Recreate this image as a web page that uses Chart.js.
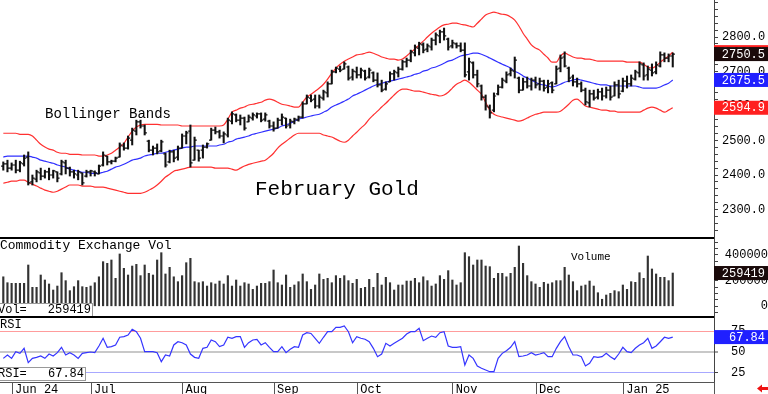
<!DOCTYPE html>
<html>
<head>
<meta charset="utf-8">
<script src="https://cdn.jsdelivr.net/npm/chart.js@4.4.1/dist/chart.umd.min.js"></script>
<style>
  body { margin: 0; background: #fff; }
  #wrap { position: relative; width: 768px; height: 394px; overflow: hidden; background: #fff; }
  canvas { position: absolute; left: 0; }
</style>
</head>
<body>
<div id="wrap">
  <canvas id="priceChart" width="768" height="237" style="top:0"></canvas>
  <canvas id="volChart" width="768" height="79" style="top:237px"></canvas>
  <canvas id="rsiChart" width="768" height="78" style="top:316px"></canvas>
</div>
<script>
// February Gold, daily bars end of May 2024 -> Jan 2025
const monthLabels = ['Jun 24', 'Jul', 'Aug', 'Sep', 'Oct', 'Nov', 'Dec', 'Jan 25'];
const monthStart = [2, 21, 43, 65, 85, 108, 128, 149];   // bar index of first session in month

const opens = [
  2426,2432,2420,2429,2414,2432,2452,2380,2388,2406,
  2397,2409,2400,2409,2403,2435,2420,2409,2400,2406,
  2397,2409,2409,2403,2429,2455,2438,2440,2452,2484,
  2478,2501,2527,2554,2542,2498,2472,2478,2470,2461,
  2438,2467,2452,2478,2513,2527,2443,2472,2472,
  2481,2501,2530,2525,2513,2516,2556,2574,2559,2565,
  2554,2565,2571,2577,2562,2556,2542,2536,2559,2565,
  2545,2554,2559,2568,2606,2623,2620,2600,2623,2638,
  2664,2699,2707,2707,2713,2684,2699,2690,2701,2684,
  2696,2675,2661,2649,2670,2693,2696,2707,2728,2733,
  2754,2768,2777,2765,2771,2791,2803,2815,2794,2774,
  2780,2774,2762,2699,2725,2690,2658,2626,2597,2588,
  2635,2655,2672,2693,2701,2681,2646,2670,2658,2675,
  2664,2672,2655,2667,2664,2710,2742,2710,2684,2670,
  2664,2646,2609,2635,2626,2641,2629,2646,2629,2661,
  2643,2672,2664,2678,2696,2719,2690,2704,2699,2716,
  2748,2739,2745
];
const highs = [
  2438,2443,2435,2443,2440,2458,2467,2400,2414,2420,
  2414,2420,2414,2409,2443,2443,2423,2414,2414,2406,
  2414,2414,2412,2429,2467,2455,2443,2452,2493,2493,
  2513,2536,2559,2559,2545,2501,2484,2490,2501,2464,
  2472,2472,2484,2519,2527,2545,2510,2472,2487,
  2493,2536,2539,2530,2525,2565,2583,2577,2574,2568,
  2574,2580,2580,2580,2580,2559,2554,2565,2577,2565,
  2562,2565,2571,2612,2632,2632,2632,2632,2646,2670,
  2704,2713,2716,2728,2716,2707,2713,2710,2704,2710,
  2699,2696,2675,2670,2699,2704,2713,2733,2739,2762,
  2777,2785,2783,2780,2797,2812,2820,2826,2797,2791,
  2783,2783,2783,2739,2728,2704,2661,2632,2603,2638,
  2661,2681,2699,2710,2742,2684,2681,2684,2681,2684,
  2681,2675,2675,2670,2716,2748,2757,2713,2690,2681,
  2670,2652,2646,2646,2649,2652,2655,2658,2670,2675,
  2681,2687,2690,2704,2728,2725,2716,2722,2728,2757,
  2754,2751,2754
];
const lows = [
  2414,2409,2414,2406,2409,2426,2371,2371,2380,2386,
  2391,2386,2391,2380,2400,2403,2397,2391,2386,2371,
  2394,2397,2397,2403,2426,2429,2432,2438,2452,2472,
  2475,2487,2516,2536,2516,2467,2458,2461,2467,2423,
  2435,2438,2443,2478,2490,2423,2443,2440,2449,
  2478,2501,2519,2507,2493,2510,2548,2554,2545,2530,
  2554,2559,2565,2554,2556,2536,2527,2536,2545,2536,
  2536,2548,2556,2565,2606,2612,2594,2594,2617,2626,
  2664,2696,2699,2707,2675,2675,2681,2681,2675,2681,
  2670,2655,2641,2646,2670,2675,2684,2704,2713,2728,
  2745,2748,2754,2757,2762,2777,2783,2791,2762,2768,
  2768,2757,2684,2675,2681,2655,2617,2588,2565,2583,
  2632,2652,2667,2687,2681,2638,2646,2652,2646,2652,
  2646,2643,2638,2638,2664,2699,2713,2670,2658,2655,
  2641,2603,2597,2617,2620,2617,2623,2617,2629,2623,
  2641,2652,2658,2675,2684,2675,2675,2687,2693,2713,
  2728,2728,2713
];
const closes = [
  2432,2420,2429,2414,2435,2449,2377,2391,2409,2397,
  2409,2400,2412,2391,2438,2420,2409,2403,2409,2377,
  2409,2412,2406,2426,2458,2438,2440,2449,2487,2478,
  2507,2530,2554,2542,2522,2472,2478,2467,2496,2429,
  2467,2449,2478,2513,2522,2435,2501,2449,2481,
  2490,2530,2525,2513,2519,2559,2577,2559,2565,2536,
  2568,2574,2577,2559,2574,2542,2536,2559,2568,2542,
  2556,2562,2568,2606,2626,2617,2600,2626,2641,2664,
  2699,2710,2704,2722,2681,2701,2690,2704,2681,2704,
  2675,2661,2646,2664,2693,2699,2707,2728,2733,2757,
  2771,2780,2762,2774,2791,2806,2815,2803,2771,2783,
  2774,2762,2690,2728,2690,2664,2626,2600,2580,2629,
  2655,2675,2690,2704,2733,2646,2670,2658,2675,2661,
  2672,2652,2664,2646,2707,2739,2716,2681,2670,2664,
  2646,2612,2635,2623,2641,2629,2646,2626,2661,2635,
  2672,2664,2681,2699,2722,2687,2707,2696,2719,2748,
  2739,2745,2750.5
];

// Bollinger bands (20, 2)
const bbUpper = [
  2521,2521,2521,2521,2518,2518,2518,2513,2501,2489,
  2481,2475,2472,2466,2463,2463,2460,2460,2460,2458,
  2458,2458,2458,2455,2455,2458,2463,2472,2481,2492,
  2510,2527,2539,2545,2547,2547,2547,2547,2545,2545,
  2545,2545,2545,2542,2542,2542,2542,2542,2542,
  2542,2542,2542,2542,2545,2562,2582,2588,2594,2597,
  2603,2605,2608,2611,2617,2620,2617,2611,2605,2603,
  2600,2597,2597,2611,2626,2634,2643,2652,2663,2678,
  2695,2710,2721,2730,2736,2742,2748,2750,2753,2756,
  2753,2748,2742,2739,2736,2736,2733,2736,2745,2756,
  2765,2777,2788,2800,2811,2820,2829,2835,2837,2840,
  2840,2837,2835,2832,2829,2840,2852,2864,2869,2872,
  2869,2866,2864,2858,2849,2832,2811,2794,2777,2768,
  2762,2750,2739,2727,2727,2745,2753,2748,2742,2739,
  2739,2736,2736,2733,2730,2730,2730,2730,2730,2730,
  2730,2727,2727,2727,2727,2721,2713,2710,2716,2727,
  2736,2745,2756.1
];
const bbMiddle = [
  2452,2455,2455,2455,2455,2455,2455,2452,2449,2443,
  2440,2437,2434,2429,2426,2423,2417,2414,2411,2408,
  2408,2405,2405,2405,2408,2411,2417,2423,2426,2431,
  2437,2443,2446,2449,2455,2458,2460,2463,2463,2466,
  2469,2472,2475,2478,2481,2481,2484,2484,2484,
  2484,2484,2484,2487,2489,2495,2498,2504,2507,2510,
  2513,2518,2521,2524,2527,2530,2533,2536,2542,2545,
  2550,2556,2562,2565,2568,2571,2574,2576,2582,2588,
  2597,2603,2608,2614,2620,2629,2634,2640,2646,2652,
  2658,2663,2666,2669,2672,2675,2678,2681,2684,2687,
  2692,2695,2701,2704,2710,2713,2718,2724,2730,2733,
  2739,2745,2748,2750,2753,2753,2750,2745,2739,2733,
  2727,2721,2716,2710,2701,2695,2687,2681,2675,2669,
  2663,2661,2658,2655,2658,2663,2669,2672,2675,2678,
  2675,2672,2669,2666,2663,2661,2661,2658,2658,2658,
  2658,2658,2658,2658,2655,2652,2652,2652,2652,2655,
  2661,2666,2675.5
];
const bbLower = [
  2376,2379,2382,2382,2385,2385,2379,2373,2368,2362,
  2356,2353,2350,2353,2359,2365,2371,2371,2371,2368,
  2368,2368,2365,2365,2365,2362,2359,2356,2353,2350,
  2347,2347,2347,2347,2350,2356,2362,2371,2382,2394,
  2402,2411,2414,2417,2420,2423,2423,2423,2423,
  2423,2423,2420,2420,2420,2420,2417,2414,2420,2426,
  2431,2434,2437,2440,2443,2452,2463,2478,2489,2498,
  2507,2516,2521,2521,2521,2521,2521,2521,2516,2513,
  2510,2504,2498,2495,2501,2513,2524,2536,2547,2562,
  2574,2585,2597,2608,2620,2632,2643,2649,2649,2646,
  2643,2643,2640,2637,2634,2632,2629,2632,2640,2652,
  2663,2669,2675,2669,2658,2646,2634,2611,2588,2576,
  2571,2568,2565,2562,2559,2556,2559,2565,2571,2576,
  2579,2582,2582,2582,2582,2585,2594,2605,2617,2620,
  2611,2600,2597,2594,2591,2588,2588,2585,2585,2582,
  2582,2582,2582,2582,2582,2588,2594,2597,2594,2588,
  2582,2588,2594.9
];

const volumes = [
  230000,184000,179000,179000,179000,179000,322000,148000,148000,244000,
  205000,174000,127000,158000,262000,200000,122000,153000,200000,153000,
  148000,158000,184000,230000,348000,335000,361000,218000,408000,296000,
  244000,314000,327000,239000,322000,257000,244000,361000,418000,252000,
  304000,230000,192000,239000,340000,374000,192000,184000,192000,158000,
  184000,174000,197000,174000,239000,158000,205000,158000,184000,174000,
  132000,158000,179000,179000,192000,283000,184000,166000,244000,148000,
  166000,192000,252000,192000,132000,166000,252000,210000,218000,184000,
  239000,218000,239000,200000,179000,210000,140000,148000,210000,148000,
  257000,166000,226000,184000,127000,166000,166000,197000,197000,218000,
  184000,230000,200000,158000,174000,239000,210000,278000,205000,166000,
  184000,418000,387000,322000,361000,361000,314000,309000,218000,257000,
  257000,230000,257000,304000,470000,335000,239000,192000,174000,148000,
  187000,174000,184000,200000,200000,304000,244000,192000,122000,158000,
  166000,197000,158000,106000,55000,88000,101000,122000,114000,166000,
  132000,192000,187000,262000,218000,392000,291000,252000,226000,226000,
  200000,259419
];

const rsi = [
  42.4,46.4,42.4,50.4,48.4,54.4,37.2,42.4,43.6,45.2,
  42.4,47.6,45.2,49.2,55.6,46.4,49.2,46.4,42.4,48.4,
  49.2,50.0,49.2,57.2,66.4,55.6,56.4,58.4,67.6,68.4,
  70.3,77.1,74.3,66.4,50.4,50.4,50.4,49.2,38.4,46.4,
  45.2,58.4,62.3,61.1,58.4,47.6,43.6,42.4,54.4,55.6,
  64.4,62.3,56.4,58.4,67.6,66.4,68.4,68.4,55.6,61.1,
  64.4,65.2,58.4,61.1,55.6,50.4,50.4,56.4,49.2,53.2,
  56.4,55.6,70.3,73.1,72.2,66.4,60.4,67.6,74.3,74.3,
  79.5,79.5,81.1,74.3,61.1,68.4,66.4,65.2,62.3,54.4,
  44.4,47.6,60.4,57.2,60.4,63.5,66.4,71.5,74.3,74.3,
  78.3,63.5,66.4,69.1,67.6,73.1,74.3,57.2,55.6,55.6,
  56.4,34.5,46.4,42.4,33.3,30.5,28.5,26.4,26.4,42.4,
  48.4,51.6,55.6,62.3,44.4,45.2,46.4,49.2,46.4,47.6,
  49.2,44.4,44.4,54.4,62.3,68.4,56.4,46.4,46.4,44.4,
  33.3,36.4,44.4,43.6,44.4,48.4,44.4,41.2,47.6,55.6,
  50.4,49.2,54.4,58.4,61.1,66.4,54.4,57.2,62.3,67.6,
  66.4,67.84
];

const priceTicks = [2300, 2400, 2500, 2600, 2700, 2800];
const volTicks = [0, 200000, 400000];
const rsiTicks = [25, 50, 75];

const MONO = '"Liberation Mono", "DejaVu Sans Mono", monospace';
Chart.defaults.font.family = MONO;
Chart.defaults.font.size = 12;
Chart.defaults.color = '#000';
Chart.defaults.animation = false;

const last = a => a[a.length - 1];

// shared horizontal scale: bar index, same spacing on all three panels
const xScale = { type: 'linear', display: false, min: -0.794, max: 170.92, offset: false };

// right axis 54px wide, no extra padding so panels line up
const fixAxis = s => { s.width = 54; s.paddingTop = 0; s.paddingBottom = 0; };

function valueBox(chart, scale, value, text, fill) {
  const { ctx, chartArea } = chart;
  const py = scale.getPixelForValue(value);
  ctx.fillStyle = fill;
  ctx.fillRect(chartArea.right, py - 7, chart.width - chartArea.right, 14);
  ctx.fillStyle = '#fff';
  ctx.font = '12px ' + MONO;
  ctx.textAlign = 'right';
  ctx.textBaseline = 'middle';
  ctx.fillText(text, 765, py + 0.5);
}

function labelBox(ctx, x1, y1, y2, label, value) {
  ctx.fillStyle = '#fff';
  ctx.fillRect(0, y1, x1, y2 - y1);
  ctx.strokeStyle = '#999';
  ctx.lineWidth = 1;
  ctx.strokeRect(-1, y1 + 0.5, x1 + 1.5, y2 - y1);
  ctx.fillStyle = '#000';
  ctx.font = '12px ' + MONO;
  ctx.textBaseline = 'alphabetic';
  ctx.textAlign = 'left';
  ctx.fillText(label, -2, y2 - 3);
  ctx.textAlign = 'right';
  ctx.fillText(value, x1 - 1, y2 - 3);
}

function panelTop(chart) {
  const { ctx, chartArea } = chart;
  ctx.strokeStyle = '#000';
  ctx.lineWidth = 2;
  ctx.beginPath();
  ctx.moveTo(0, 1);
  ctx.lineTo(chartArea.right, 1);
  ctx.stroke();
}

// Price panel: OHLC bars + Bollinger bands
const ohlcTicks = {
  id: 'ohlcTicks',
  afterDatasetsDraw(chart) {
    const { ctx, scales: { x, y } } = chart;
    ctx.save();
    ctx.strokeStyle = '#111';
    ctx.lineWidth = 1.2;
    ctx.beginPath();
    opens.forEach((o, i) => {
      const px = x.getPixelForValue(i);
      const yo = y.getPixelForValue(o);
      const yc = y.getPixelForValue(closes[i]);
      ctx.moveTo(px - 2.2, yo); ctx.lineTo(px, yo);
      ctx.moveTo(px, yc); ctx.lineTo(px + 2.2, yc);
    });
    ctx.stroke();
    ctx.restore();
  }
};

const priceDecor = {
  id: 'priceDecor',
  afterDraw(chart) {
    const { ctx, scales: { y } } = chart;
    ctx.save();
    ctx.fillStyle = '#000';
    ctx.textAlign = 'left';
    ctx.textBaseline = 'alphabetic';
    ctx.font = '14px ' + MONO;
    ctx.fillText('Bollinger Bands', 45, 118);
    ctx.font = '21px ' + MONO;
    ctx.fillText('February Gold', 255, 195);
    valueBox(chart, y, last(bbUpper), last(bbUpper).toFixed(1), '#ff2020');
    valueBox(chart, y, last(closes), last(closes).toFixed(1), '#1a0a0a');
    valueBox(chart, y, last(bbMiddle), last(bbMiddle).toFixed(1), '#2020ff');
    valueBox(chart, y, last(bbLower), last(bbLower).toFixed(1), '#ff2020');
    ctx.restore();
  }
};

const pts = arr => arr.map((v, i) => ({ x: i, y: v }));

new Chart(document.getElementById('priceChart'), {
  type: 'bar',
  data: {
    datasets: [
      {
        type: 'bar',
        label: 'February Gold',
        data: lows.map((l, i) => ({ x: i, y: [l, highs[i]] })),
        backgroundColor: '#111',
        borderWidth: 0,
        barThickness: 1.4
      },
      { type: 'line', label: 'Upper', data: pts(bbUpper), borderColor: '#ff3030', borderWidth: 1.2, pointRadius: 0, cubicInterpolationMode: 'monotone' },
      { type: 'line', label: 'Middle', data: pts(bbMiddle), borderColor: '#3030ff', borderWidth: 1.2, pointRadius: 0, cubicInterpolationMode: 'monotone' },
      { type: 'line', label: 'Lower', data: pts(bbLower), borderColor: '#ff3030', borderWidth: 1.2, pointRadius: 0, cubicInterpolationMode: 'monotone' }
    ]
  },
  options: {
    responsive: false,
    layout: { padding: 0 },
    plugins: { legend: { display: false }, tooltip: { enabled: false } },
    scales: {
      x: xScale,
      y: {
        position: 'right',
        min: 2220.3,
        max: 2907.25,
        afterFit: fixAxis,
        afterBuildTicks: s => { s.ticks = []; for (let v = 2240; v <= 2900; v += 20) s.ticks.push({ value: v }); },
        ticks: { autoSkip: false, padding: 4, callback: v => priceTicks.includes(v) ? v.toFixed(1) : '' },
        grid: { drawOnChartArea: false, tickLength: 4, tickColor: '#444' },
        border: { color: '#444' }
      }
    }
  },
  plugins: [ohlcTicks, priceDecor]
});

// Volume panel
const volDecor = {
  id: 'volDecor',
  afterDraw(chart) {
    const { ctx, scales: { y } } = chart;
    ctx.save();
    panelTop(chart);
    ctx.fillStyle = '#000';
    ctx.textAlign = 'left';
    ctx.textBaseline = 'alphabetic';
    ctx.font = '13px ' + MONO;
    ctx.fillText('Commodity Exchange Vol', 0, 12);
    ctx.font = '11px ' + MONO;
    ctx.fillText('Volume', 571, 23);
    labelBox(ctx, 92, 66, 79, 'Vol=', String(last(volumes)));
    valueBox(chart, y, last(volumes), String(last(volumes)), '#1a0a0a');
    ctx.restore();
  }
};

new Chart(document.getElementById('volChart'), {
  type: 'bar',
  data: {
    datasets: [{
      label: 'Volume',
      data: pts(volumes),
      backgroundColor: '#333',
      borderWidth: 0,
      barThickness: 1.5
    }]
  },
  options: {
    responsive: false,
    layout: { padding: 0 },
    plugins: { legend: { display: false }, tooltip: { enabled: false } },
    scales: {
      x: xScale,
      y: {
        position: 'right',
        min: -75600,
        max: 540300,
        afterFit: fixAxis,
        afterBuildTicks: s => { s.ticks = []; for (let v = -50000; v <= 500000; v += 50000) s.ticks.push({ value: v }); },
        ticks: { autoSkip: false, padding: 4, crossAlign: 'far', callback: v => volTicks.includes(v) ? String(v) : '' },
        grid: { drawOnChartArea: false, tickLength: 4, tickColor: '#444' },
        border: { color: '#444' }
      }
    }
  },
  plugins: [volDecor]
});

// RSI panel + date axis
const rsiDecor = {
  id: 'rsiDecor',
  afterDraw(chart) {
    const { ctx, chartArea, scales: { x, y } } = chart;
    ctx.save();
    panelTop(chart);
    ctx.fillStyle = '#000';
    ctx.textAlign = 'left';
    ctx.textBaseline = 'alphabetic';
    ctx.font = '12px ' + MONO;
    ctx.fillText('RSI', 0, 12);
    labelBox(ctx, 85, 51, 64, 'RSI=', last(rsi).toFixed(2));
    valueBox(chart, y, last(rsi), last(rsi).toFixed(2), '#2020ff');

    // bottom axis line, month ticks and labels
    ctx.strokeStyle = '#555';
    ctx.lineWidth = 1;
    ctx.beginPath();
    ctx.moveTo(0, chartArea.bottom + 0.5);
    ctx.lineTo(chartArea.right, chartArea.bottom + 0.5);
    ctx.moveTo(chartArea.right + 0.5, chartArea.bottom);
    ctx.lineTo(chartArea.right + 0.5, chart.height);
    monthStart.forEach(idx => {
      const px = Math.round(x.getPixelForValue(idx)) + 0.5;
      ctx.moveTo(px, chartArea.bottom);
      ctx.lineTo(px, chart.height);
    });
    ctx.stroke();
    ctx.fillStyle = '#000';
    ctx.font = '12px ' + MONO;
    ctx.textAlign = 'left';
    ctx.textBaseline = 'alphabetic';
    monthStart.forEach((idx, k) => {
      ctx.fillText(monthLabels[k], x.getPixelForValue(idx) + 3.5, chart.height - 1);
    });

    // red scroll arrow
    const ay = 72.5;
    ctx.fillStyle = '#ee1111';
    ctx.beginPath();
    ctx.moveTo(757, ay);
    ctx.lineTo(762, ay - 4);
    ctx.lineTo(762, ay - 1.5);
    ctx.lineTo(768, ay - 1.5);
    ctx.lineTo(768, ay + 1.5);
    ctx.lineTo(762, ay + 1.5);
    ctx.lineTo(762, ay + 4);
    ctx.closePath();
    ctx.fill();
    ctx.restore();
  }
};

new Chart(document.getElementById('rsiChart'), {
  type: 'line',
  data: {
    datasets: [{
      label: 'RSI',
      data: pts(rsi),
      borderColor: '#3535ff',
      borderWidth: 1.2,
      pointRadius: 0,
      tension: 0
    }]
  },
  options: {
    responsive: false,
    layout: { padding: { bottom: 12 } },
    plugins: { legend: { display: false }, tooltip: { enabled: false } },
    scales: {
      x: xScale,
      y: {
        position: 'right',
        min: 14.1,
        max: 93.06,
        afterFit: fixAxis,
        afterBuildTicks: s => { s.ticks = rsiTicks.map(v => ({ value: v })); },
        ticks: { autoSkip: false, padding: 13, callback: v => String(v) },
        grid: {
          drawOnChartArea: true,
          tickLength: 4,
          tickColor: '#444',
          tickWidth: 1,
          color: c => c.tick.value === 75 ? '#ff9c9c' : c.tick.value === 50 ? '#c8c8c8' : '#a8a8ff',
          lineWidth: c => c.tick.value === 50 ? 2 : 1
        },
        border: { color: '#444' }
      }
    }
  },
  plugins: [rsiDecor]
});
</script>
</body>
</html>
